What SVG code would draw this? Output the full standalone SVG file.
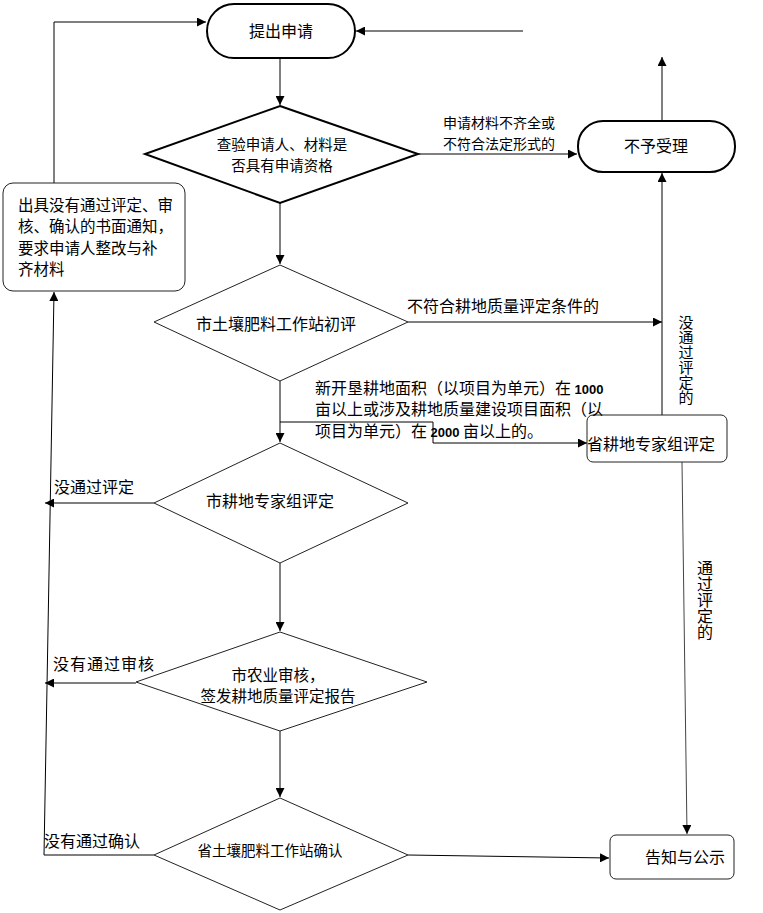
<svg xmlns="http://www.w3.org/2000/svg" width="763" height="913" viewBox="0 0 763 913">
<style>
text{font-family:"Noto Sans CJK SC","Liberation Sans",sans-serif;font-size:16px;fill:#000;dominant-baseline:central}
.c{text-anchor:middle}
.thick{fill:#fff;stroke:#000;stroke-width:2}
.thin{fill:#fff;stroke:#222;stroke-width:1}
.ln{fill:none;stroke:#000;stroke-width:1}
.gl{fill:none;stroke:#444;stroke-width:1}
.bl{dominant-baseline:alphabetic}
.num{font-family:"Liberation Sans",sans-serif;font-weight:bold;font-size:13px}
.v{writing-mode:vertical-rl;text-orientation:upright}
</style>
<defs>
<marker id="a" viewBox="0 0 10 10" refX="10" refY="5" markerWidth="9" markerHeight="9" markerUnits="userSpaceOnUse" orient="auto">
<path d="M0,0 L10,5 L0,10 z" fill="#000"/>
</marker>
</defs>
<rect width="763" height="913" fill="#fff"/>

<g id="connectors">
<path class="ln" d="M523,31 L356,31" marker-end="url(#a)"/>
<path class="ln" d="M280,58 L280,105" marker-end="url(#a)"/>
<path class="ln" d="M418,154 L577,154" marker-end="url(#a)"/>
<path class="ln" d="M662,121 L662,57" marker-end="url(#a)"/>
<path class="ln" d="M280,203 L280,264" marker-end="url(#a)"/>
<path class="ln" d="M408,322 L662,322" marker-end="url(#a)"/>
<path class="ln" d="M662,415 L662,173" marker-end="url(#a)"/>
<path class="ln" d="M280,381 L280,442" marker-end="url(#a)"/>
<path class="ln" d="M280,422 L433,422 L433,443 L587,443" marker-end="url(#a)"/>
<path class="ln" d="M154,503 L45,503" marker-end="url(#a)"/>
<path class="ln" d="M280,563 L280,631" marker-end="url(#a)"/>
<path class="ln" d="M136,683 L45,683" marker-end="url(#a)"/>
<path class="ln" d="M280,731 L280,797" marker-end="url(#a)"/>
<path class="ln" d="M154,855 L44,855 L54,292" marker-end="url(#a)"/>
<path class="ln" d="M54,183 L54,22 L206,22" marker-end="url(#a)"/>
<path class="ln" d="M408,855 L609,858" marker-end="url(#a)"/>
<path class="gl" d="M682,462 L687,834" marker-end="url(#a)"/>
</g>

<g id="n-apply">
<rect class="thick" x="207" y="4" width="148" height="54" rx="27"/>
<text class="c" x="281" y="30">提出申请</text>
</g>

<g id="n-check">
<polygon class="thick" points="280,106 418,154 280,203 145,154"/>
<text class="c" x="282" y="143" style="font-size:14.5px">查验申请人、材料是</text>
<text class="c" x="282" y="164" style="font-size:14.5px">否具有申请资格</text>
</g>

<g id="n-reject">
<rect class="thick" x="578" y="121" width="157" height="51" rx="25"/>
<text class="c" x="656" y="145">不予受理</text>
</g>

<g id="n-notice">
<rect class="thin" x="3" y="183" width="182" height="108" rx="10"/>
<text x="18" y="204" style="font-size:15.5px">出具没有通过评定、审</text>
<text x="18" y="225" style="font-size:15.5px">核、确认的书面通知，</text>
<text x="18" y="247" style="font-size:15.5px">要求申请人整改与补</text>
<text x="18" y="268" style="font-size:15.5px">齐材料</text>
</g>

<g id="n-initial">
<polygon class="thin" points="280,265 408,322 280,381 154,322"/>
<text class="c" x="276" y="323">市土壤肥料工作站初评</text>
</g>

<g id="n-city-expert">
<polygon class="thin" points="280,443 408,503 280,563 154,503"/>
<text class="c" x="270" y="500">市耕地专家组评定</text>
</g>

<g id="n-province-expert">
<rect class="thin" x="587" y="415" width="140" height="47" rx="6"/>
<text x="587" y="443">省耕地专家组评定</text>
</g>

<g id="n-review">
<polygon class="thin" points="280,632 427,682 280,731 136,682"/>
<text class="c" x="278" y="674" style="font-size:15.5px">市农业审核，</text>
<text class="c" x="278" y="695" style="font-size:15.5px">签发耕地质量评定报告</text>
</g>

<g id="n-confirm">
<polygon class="thin" points="280,798 408,855 280,910 154,855"/>
<text class="c" x="270" y="849" style="font-size:14.5px">省土壤肥料工作站确认</text>
</g>

<g id="n-publish">
<rect class="thin" x="610" y="835" width="124" height="44" rx="6"/>
<text x="645" y="856">告知与公示</text>
</g>

<g id="labels">
<text x="443" y="122" style="font-size:14px">申请材料不齐全或</text>
<text x="443" y="143" style="font-size:14px">不符合法定形式的</text>
<text x="407" y="305">不符合耕地质量评定条件的</text>
<text class="bl" x="315" y="394">新开垦耕地面积（以项目为单元）在 <tspan class="num">1000</tspan></text>
<text class="bl" x="315" y="415">亩以上或涉及耕地质量建设项目面积（以</text>
<text class="bl" x="315" y="437">项目为单元）在 <tspan class="num">2000</tspan> 亩以上的。</text>
<text class="v" x="686" y="315" style="font-size:15px">没通过评定的</text>
<text class="v" x="705" y="560">通过评定的</text>
<text x="54" y="486">没通过评定</text>
<text x="53" y="663" style="letter-spacing:1px">没有通过审核</text>
<text x="44" y="840">没有通过确认</text>
</g>
</svg>
